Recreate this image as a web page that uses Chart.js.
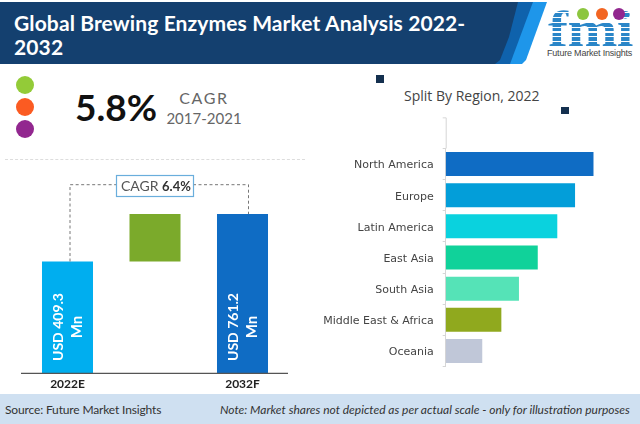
<!DOCTYPE html>
<html><head><meta charset="utf-8">
<script src="https://cdn.jsdelivr.net/npm/chart.js@4"></script>
<style>
html,body{margin:0;padding:0;background:#fff;width:640px;height:424px;overflow:hidden}
.a{position:absolute;white-space:nowrap}
canvas{position:absolute}
</style></head><body>
<div class="a" style="left:0;top:2px;width:640px;height:62px;">
<div class="a" style="left:0;top:0;width:548px;height:62px;background:#1E96EA;clip-path:polygon(0 0,547px 0,526px 58px,522px 62px,0 62px)"></div>
<div class="a" style="left:0;top:0;width:548px;height:62px;background:#0F62AC;clip-path:polygon(0 0,533px 0,510px 62px,0 62px)"></div>
<div class="a" style="left:0;top:0;width:548px;height:62px;background:#14406F;clip-path:polygon(0 0,518px 0,509px 35px,500px 58px,495px 62px,0 62px)"></div>
</div>
<div class="a" id="t1" style="left:14px;top:11px;color:#fff;font:bold 21px/24px Lato;letter-spacing:.12px">Global Brewing Enzymes Market Analysis 2022-<br>2032</div>
<div class="a" style="left:548px;top:-1.5px;font:bold 50px/60px 'Liberation Serif';letter-spacing:-.5px;color:transparent;background:repeating-linear-gradient(180deg,#2a86c8 0 3.6px,#fff 3.6px 4.8px);-webkit-background-clip:text;background-clip:text;transform:scaleX(1.2);transform-origin:left">fmi</div>
<div class="a" style="left:577px;top:8px;width:12px;height:12px;border-radius:50%;background:#8CC63F"></div>
<div class="a" style="left:596px;top:8px;width:12px;height:12px;border-radius:50%;background:#F26522"></div>
<div class="a" style="left:613px;top:8px;width:12px;height:12px;border-radius:50%;background:#92278F"></div>
<div class="a" style="left:547px;top:47px;font:9px/12px 'Liberation Sans';letter-spacing:-.2px;color:#444">Future Market Insights</div>

<div class="a" style="left:16px;top:76px;width:18px;height:18px;border-radius:50%;background:#93CB38"></div>
<div class="a" style="left:16px;top:98px;width:18px;height:18px;border-radius:50%;background:#FB5B22"></div>
<div class="a" style="left:16px;top:120px;width:18px;height:18px;border-radius:50%;background:#92278F"></div>
<div class="a" style="left:75px;top:87px;font:bold 37px/40px Lato;color:#111">5.8%</div>
<div class="a" style="left:164px;top:88px;width:80px;text-align:center;font:15px/20px Lato;color:#666"><span style="font-size:16px;letter-spacing:1.6px">CAGR</span><br>2017-2021</div>
<div class="a" style="left:5px;top:159px;width:300px;border-top:1px dashed #ddd"></div>
<div class="a" style="left:376px;top:75px;width:8px;height:8px;background:#14304F"></div>
<div class="a" style="left:561px;top:107px;width:8px;height:7px;background:#14304F"></div>
<div class="a" style="left:404px;top:87px;font:14px/18px 'Open Sans';color:#444">Split By Region, 2022</div>

<canvas id="left" style="left:0;top:150px;width:310px;height:244px"></canvas>
<canvas id="right" style="left:300px;top:100px;width:340px;height:294px"></canvas>

<div class="a" style="left:0;top:394px;width:640px;height:30px;background:#CFE0F1"></div>
<div class="a" style="left:5px;top:402px;font:12px/16px Lato;letter-spacing:-.15px;color:#333">Source: Future Market Insights</div>
<div class="a" style="left:220px;top:402px;font:italic 12px/16px Lato;color:#333">Note: Market shares not depicted as per actual scale - only for illustration purposes</div>

<script>
const marketYears = ['2022E', '', '2032F'];
const marketValues = [409.3, 761.2];
const marketCagr = 'CAGR';
const marketCagrValue = '6.4%';
const marketColors = ['#00AEEF', '#7BAA2B', '#0F6CC4'];
const regions = ['North America','Europe','Latin America','East Asia','South Asia','Middle East & Africa','Oceania'];
const regionValues = [100, 87.4, 75.4, 62.2, 49.5, 37.6, 24.7];
const regionColors = ['#0F6CC4','#039ED9','#0AD2DE','#10D29A','#55E3B7','#90A91E','#C0C7D8'];
const axisFloor = -416;

Chart.defaults.animation = false;
Chart.defaults.responsive = false;
const dpr = 1;

const leftDecor = {
  id:'leftDecor',
  afterDatasetsDraw(c){
    const g=c.ctx, a=c.chartArea, bars=c.getDatasetMeta(0).data, ys=c.scales.y;
    g.save();
    g.strokeStyle='#555'; g.lineWidth=1.3;
    g.beginPath(); g.moveTo(a.left-2.75,a.bottom+.3); g.lineTo(a.right+1.75,a.bottom+.3); g.stroke();
    const ly=34.7, b0=bars[0], b2=bars[2], bx=116, bw=77, by=25, bh=21;
    g.strokeStyle='#777'; g.lineWidth=1; g.setLineDash([3,2.5]);
    g.beginPath(); g.moveTo(b0.x+2.5,ys.getPixelForValue(marketValues[0])); g.lineTo(b0.x+2.5,ly); g.lineTo(bx,ly); g.stroke();
    g.beginPath(); g.moveTo(bx+bw,ly); g.lineTo(b2.x+6,ly); g.lineTo(b2.x+6,ys.getPixelForValue(marketValues[1])); g.stroke();
    g.setLineDash([]);
    g.strokeStyle='#6AAEDC'; g.lineWidth=1.2; g.strokeRect(bx+.5,by+.5,bw,bh);
    g.textBaseline='middle'; g.textAlign='left';
    g.fillStyle='#555'; g.font='14px Lato'; g.fillText(marketCagr,121,by+bh/2+1);
    g.fillStyle='#333'; g.font='bold 13px Lato'; g.fillText(marketCagrValue,162,by+bh/2+1);
    [[0,marketValues[0]],[2,marketValues[1]]].forEach(([i,v])=>{
      g.save(); g.translate(bars[i].x,177); g.rotate(-Math.PI/2);
      g.fillStyle='#fff'; g.textAlign='center'; g.font='bold 14px Lato';
      g.fillText('USD '+v,0,-9); g.font='bold 15px Lato'; g.fillText('Mn',0,10);
      g.restore();
    });
    g.restore();
  }
};
new Chart(document.getElementById('left').getContext('2d'),{
  type:'bar',
  data:{labels:marketYears,datasets:[{
    data:[[axisFloor,marketValues[0]],[marketValues[0],marketValues[1]],[axisFloor,marketValues[1]]],
    backgroundColor:marketColors,borderWidth:0,barPercentage:.583,categoryPercentage:1
  }]},
  options:{
    devicePixelRatio:dpr,
    layout:{padding:{left:23.75,right:23.75,top:64,bottom:0}},
    plugins:{legend:{display:false},tooltip:{enabled:false}},
    scales:{
      x:{grid:{display:false,drawTicks:false},border:{display:false},
         ticks:{color:'#222',font:{family:'Lato',size:12,weight:'bold'},padding:4,maxRotation:0,autoSkip:false},
         afterFit(s){s.height=21}},
      y:{display:false,min:axisFloor,max:marketValues[1]}
    }
  },
  plugins:[leftDecor]
});

const rightDecor = {
  id:'rightDecor',
  afterDraw(c){
    const g=c.ctx,a=c.chartArea,p=(a.bottom-a.top)/regions.length;
    g.save(); g.strokeStyle='#d6d6d6'; g.lineWidth=1;
    g.beginPath(); g.moveTo(a.left-3,a.top-p+.5); g.lineTo(a.left+.5,a.top-p+.5); g.lineTo(a.left+.5,a.top); g.stroke();
    g.restore();
  }
};
new Chart(document.getElementById('right').getContext('2d'),{
  type:'bar',
  data:{labels:regions,datasets:[{data:regionValues,backgroundColor:regionColors,borderWidth:0,barPercentage:.77,categoryPercentage:1}]},
  options:{
    indexAxis:'y',devicePixelRatio:dpr,
    layout:{padding:{left:0,right:46.3,top:48.5,bottom:27.5}},
    plugins:{legend:{display:false},tooltip:{enabled:false}},
    scales:{
      x:{display:false,min:0,max:100},
      y:{grid:{drawOnChartArea:false,color:'#d6d6d6',tickLength:3,offset:true},border:{color:'#d6d6d6'},
         ticks:{color:'#444',font:{family:'DejaVu Sans',size:11},padding:9,autoSkip:false,labelOffset:1.5},
         afterFit(s){s.width=145.7}}
    }
  },
  plugins:[rightDecor]
});
</script>
</body></html>
